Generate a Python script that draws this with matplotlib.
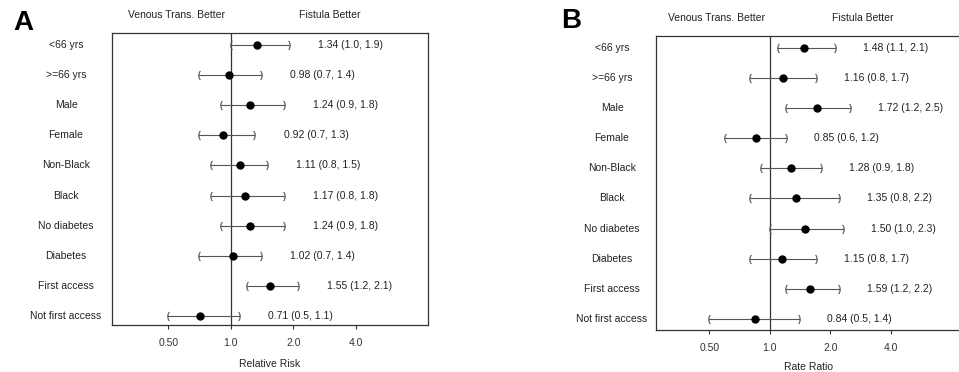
import matplotlib
matplotlib.use("Agg")
import matplotlib.pyplot as plt
import matplotlib.transforms as mtransforms
import matplotlib.ticker as mticker
import numpy as np

plt.rcParams['font.family'] = ['Liberation Sans', 'DejaVu Sans']

categories = ["<66 yrs", ">=66 yrs", "Male", "Female", "Non-Black", "Black",
              "No diabetes", "Diabetes", "First access", "Not first access"]

# Panel A: Relative Risk
a_est = [1.34, 0.98, 1.24, 0.92, 1.11, 1.17, 1.24, 1.02, 1.55, 0.71]
a_lo = [1.0, 0.7, 0.9, 0.7, 0.8, 0.8, 0.9, 0.7, 1.2, 0.5]
a_hi = [1.9, 1.4, 1.8, 1.3, 1.5, 1.8, 1.8, 1.4, 2.1, 1.1]
a_lbl = ["1.34 (1.0, 1.9)", "0.98 (0.7, 1.4)", "1.24 (0.9, 1.8)", "0.92 (0.7, 1.3)",
         "1.11 (0.8, 1.5)", "1.17 (0.8, 1.8)", "1.24 (0.9, 1.8)", "1.02 (0.7, 1.4)",
         "1.55 (1.2, 2.1)", "0.71 (0.5, 1.1)"]

# Panel B: Rate Ratio
b_est = [1.48, 1.16, 1.72, 0.85, 1.28, 1.35, 1.50, 1.15, 1.59, 0.84]
b_lo = [1.1, 0.8, 1.2, 0.6, 0.9, 0.8, 1.0, 0.8, 1.2, 0.5]
b_hi = [2.1, 1.7, 2.5, 1.2, 1.8, 2.2, 2.3, 1.7, 2.2, 1.4]
b_lbl = ["1.48 (1.1, 2.1)", "1.16 (0.8, 1.7)", "1.72 (1.2, 2.5)", "0.85 (0.6, 1.2)",
         "1.28 (0.9, 1.8)", "1.35 (0.8, 2.2)", "1.50 (1.0, 2.3)", "1.15 (0.8, 1.7)",
         "1.59 (1.2, 2.2)", "0.84 (0.5, 1.4)"]

ticks = [0.5, 1.0, 2.0, 4.0]
tick_labels = ["0.50", "1.0", "2.0", "4.0"]

W, H = 959, 372
fig = plt.figure(figsize=(W / 100, H / 100), dpi=100)


def px_ax(l, t, r, b):
    return fig.add_axes([l / W, 1 - b / H, (r - l) / W, (b - t) / H])


def headers(hdr_y, hdr1_x, hdr2_x, letter, letter_xy):
    fig.text(hdr1_x / W, 1 - hdr_y / H, "Venous Trans. Better", fontsize=7.5,
             ha='center', va='center', color='#222222')
    fig.text(hdr2_x / W, 1 - hdr_y / H, "Fistula Better", fontsize=7.5,
             ha='center', va='center', color='#222222')
    fig.text(letter_xy[0] / W, 1 - letter_xy[1] / H, letter, fontsize=20,
             fontweight='bold', ha='center', va='center', color='black')


axA = px_ax(112, 33, 428, 325)
axB = px_ax(656, 36, 962, 330)

for ax, est, lo, hi, lbl, xlim, ylim, xl, cx, lpad in [
        (axA, a_est, a_lo, a_hi, a_lbl, (0.268, 8.9), (9.3, -0.4), "Relative Risk", 66, 8),
        (axB, b_est, b_lo, b_hi, b_lbl, (0.272, 9.0), (9.37, -0.4), "Rate Ratio", 612, 6.5)]:
    n = len(est)
    y = np.arange(n)
    ax.set_xscale('log', base=2)
    ax.set_xlim(*xlim)
    ax.set_ylim(*ylim)
    ax.axvline(1.0, color='#333333', lw=0.9, zorder=1)
    for i in range(n):
        ax.plot([lo[i], hi[i]], [y[i], y[i]], color='#555555', lw=0.8, zorder=2)
        ax.plot([lo[i]], [y[i]], marker='$($', color='#555555', ms=6.5,
                markeredgewidth=0.2, zorder=3)
        ax.plot([hi[i]], [y[i]], marker='$)$', color='#555555', ms=6.5,
                markeredgewidth=0.2, zorder=3)
        ax.plot([est[i]], [y[i]], 'o', color='black', ms=5, zorder=4)
        ax.text(hi[i] * 1.38, y[i], lbl[i], fontsize=7.5, va='center', ha='left',
                color='#222222')
    ax.set_yticks([])
    ax.set_xticks(ticks)
    ax.set_xticklabels(tick_labels)
    ax.xaxis.set_minor_locator(mticker.NullLocator())
    ax.tick_params(axis='x', direction='out', length=3, width=0.8, labelsize=7.5,
                   colors='#333333', pad=6.5)
    ax.set_xlabel(xl, fontsize=7.5, color='#222222', labelpad=lpad)
    for s in ax.spines.values():
        s.set_color('#333333')
        s.set_linewidth(0.9)
    trans = mtransforms.blended_transform_factory(fig.transFigure, ax.transData)
    for i, c in enumerate(categories):
        ax.text(cx / W, y[i], c, transform=trans, fontsize=7.5, ha='center',
                va='center', color='#222222')

headers(15, 177, 330, "A", (23, 23))
headers(18, 717, 863, "B", (571, 21))

fig.savefig("out.png", dpi=100)
